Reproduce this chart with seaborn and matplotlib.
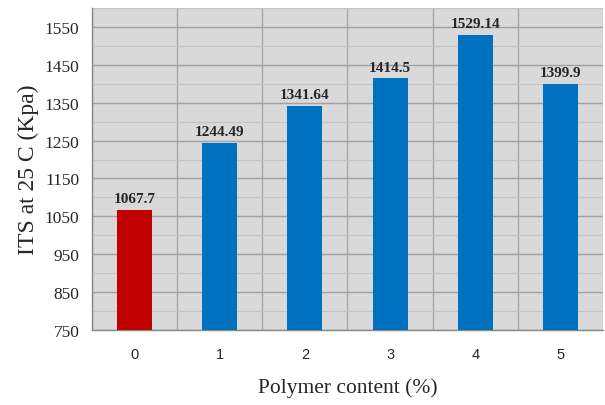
import matplotlib
matplotlib.use("Agg")
import matplotlib.pyplot as plt
import seaborn as sns
import numpy as np

categories = ["0", "1", "2", "3", "4", "5"]
its_values = [1067.7, 1244.49, 1341.64, 1414.5, 1529.14, 1399.9]
value_labels = ["1067.7", "1244.49", "1341.64", "1414.5", "1529.14", "1399.9"]
bar_colors = ["#C00000", "#0070C0", "#0070C0", "#0070C0", "#0070C0", "#0070C0"]

sns.set_style("white")
serif = ["Liberation Serif", "DejaVu Serif"]

fig = plt.figure(figsize=(6.05, 4.06), dpi=100)
ax = fig.add_axes([92 / 605, 1 - 331 / 406, 511 / 605, 322 / 406])
ax.set_facecolor("#D9D9D9")

sns.barplot(x=categories, y=its_values, hue=categories, palette=bar_colors,
            legend=False, width=0.41, saturation=1, linewidth=0,
            ax=ax, zorder=3)

ax.set_ylim(750, 1600)
ax.set_xlim(-0.5, 5.5)
ax.set_yticks(np.arange(750, 1551, 100))
ax.set_yticks(np.arange(800, 1601, 100), minor=True)
ax.set_xticks(range(6))
ax.set_xticks(np.arange(-0.5, 5.6, 1), minor=True)

ax.grid(which="major", axis="y", color="#A0A0A0", linewidth=1.0, zorder=0)
ax.grid(which="minor", axis="y", color="#C4C4C4", linewidth=0.9, zorder=0)
ax.grid(which="minor", axis="x", color="#A8A8A8", linewidth=1.0, zorder=0)
ax.set_axisbelow(True)

ax.tick_params(axis="x", which="major", length=0, pad=12, labelsize=10.5)
ax.tick_params(axis="x", which="minor", length=6, color="#888888", width=1)
ax.tick_params(axis="y", which="major", length=5, color="#888888", width=1,
               labelsize=12.5, pad=4)
ax.tick_params(axis="y", which="minor", length=0)
for lab in ax.get_xticklabels():
    lab.set_family(["Liberation Sans", "DejaVu Sans"])
for lab in ax.get_yticklabels():
    lab.set_family(serif)

for s in ["top", "right"]:
    ax.spines[s].set_visible(False)
for s in ["left", "bottom"]:
    ax.spines[s].set_color("#888888")
    ax.spines[s].set_linewidth(1)

for i, (v, t) in enumerate(zip(its_values, value_labels)):
    ax.text(i, v + 12, t, ha="center", va="bottom", fontsize=11,
            fontweight="bold", family=serif, zorder=4)

ax.set_xlabel("Polymer content (%)", fontsize=15.5, family=serif, labelpad=12)
ax.set_ylabel("ITS at 25 C (Kpa)", fontsize=17, family=serif, labelpad=4)

fig.savefig("out.png", dpi=100)
